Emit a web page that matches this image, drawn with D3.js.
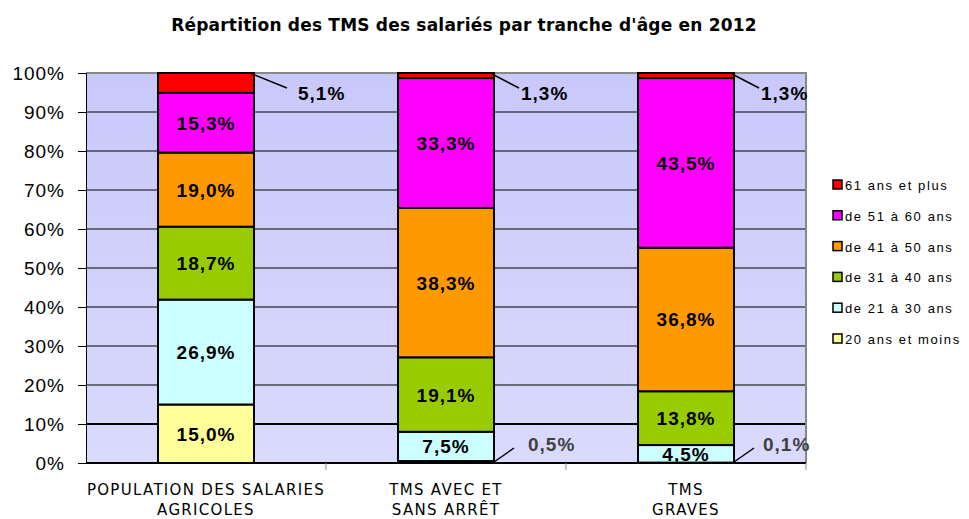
<!DOCTYPE html>
<html>
<head>
<meta charset="utf-8">
<script src="https://cdn.jsdelivr.net/npm/d3@7"></script>
<style>
  body { margin: 0; background: #fff; }
  svg { display: block; }
</style>
</head>
<body>
<div id="chart"></div>
<script>
// data ---------------------------------------------------
var categories = [
  ["POPULATION DES SALARIES", "AGRICOLES"],
  ["TMS AVEC ET", "SANS ARRÊT"],
  ["TMS", "GRAVES"]
];
var ageGroups = ["20 ans et moins", "de 21 à 30 ans", "de 31 à 40 ans", "de 41 à 50 ans", "de 51 à 60 ans", "61 ans et plus"];
var colors = ["#ffff99", "#ccffff", "#99cc00", "#ff9900", "#ff00ff", "#ff0000"];

// one array per age group, values in % for the 3 bars
var age20 = [15.0, 0.5, 0.1];
var age21 = [26.9, 7.5, 4.5];
var age31 = [18.7, 19.1, 13.8];
var age41 = [19.0, 38.3, 36.8];
var age51 = [15.3, 33.3, 43.5];
var age61 = [5.1, 1.3, 1.3];
var yTicks = [0, 10, 20, 30, 40, 50, 60, 70, 80, 90, 100];

var series = [age20, age21, age31, age41, age51, age61];

// 1. svg setup ---------------------------------------------
var svgWidth = 969;
var svgHeight = 519;
var margin = { top: 73, right: 163, bottom: 56, left: 86 };
var width = svgWidth - margin.left - margin.right;
var height = svgHeight - margin.top - margin.bottom;

var svg = d3.select("#chart").append("svg")
  .attr("width", svgWidth)
  .attr("height", svgHeight);

// title
svg.append("text")
  .attr("x", 464)
  .attr("y", 31)
  .attr("text-anchor", "middle")
  .style("font-family", "'Century Gothic', 'DejaVu Sans', sans-serif")
  .style("font-weight", "bold")
  .style("font-size", "17px")
  .style("letter-spacing", "0.2px")
  .text("Répartition des TMS des salariés par tranche d'âge en 2012");

var defs = svg.append("defs");
var grad = defs.append("linearGradient").attr("id", "bg").attr("x1", 0).attr("y1", 0).attr("x2", 0).attr("y2", 1);
grad.append("stop").attr("offset", "0%").attr("stop-color", "#c8c8fa");
grad.append("stop").attr("offset", "100%").attr("stop-color", "#dadafd");

var chartGroup = svg.append("g")
  .attr("transform", `translate(${margin.left}, ${margin.top})`);

// 2. scales -------------------------------------------------
var xScale = d3.scaleBand()
  .domain(d3.range(categories.length))
  .range([0, width])
  .paddingInner(0.6)
  .paddingOuter(0.3);

var yScale = d3.scaleLinear()
  .domain([0, 100])
  .range([height, 0]);

// plot background
chartGroup.append("rect")
  .attr("width", width)
  .attr("height", height)
  .attr("fill", "url(#bg)");

// gridlines
chartGroup.append("g").selectAll("line").data(yTicks.slice(1, -1)).enter().append("line")
  .attr("x1", 0).attr("x2", width)
  .attr("y1", d => yScale(d)).attr("y2", d => yScale(d))
  .attr("stroke", "#000")
  .attr("stroke-width", d => d == 10 ? 2 : 1);

// top and right border (gray)
chartGroup.append("path")
  .attr("d", `M0,${yScale(100)}H${width}V${height}`)
  .attr("fill", "none")
  .attr("stroke", "#888")
  .attr("stroke-width", 2);

// y axis
var yAxis = d3.axisLeft(yScale)
  .tickValues(yTicks)
  .tickSize(8)
  .tickPadding(13)
  .tickFormat(d => d + "%");

var yG = chartGroup.append("g").call(yAxis);
yG.select(".domain").attr("stroke", "#000");
yG.selectAll("text")
  .style("font-family", "'Liberation Sans', Arial, sans-serif")
  .style("font-size", "19px")
  .style("letter-spacing", "1px")
  .attr("dy", "0.36em")
  .attr("fill", "#000");

// x axis: baseline + ticks between categories
chartGroup.append("line")
  .attr("x1", 0).attr("x2", width)
  .attr("y1", height).attr("y2", height)
  .attr("stroke", "#000").attr("stroke-width", 2);

chartGroup.append("g").selectAll("line").data(d3.range(1, categories.length + 1)).enter().append("line")
  .attr("x1", d => xScale.step() * d).attr("x2", d => xScale.step() * d)
  .attr("y1", height).attr("y2", height + 7)
  .attr("stroke", "#888");

// category labels
var catX = (d, i) => xScale(i) + xScale.bandwidth() / 2;
var catG = chartGroup.append("g").selectAll("text").data(categories).enter().append("text")
  .attr("x", catX)
  .attr("y", height + 32)
  .attr("text-anchor", "middle")
  .style("font-family", "'Century Gothic', 'DejaVu Sans', sans-serif")
  .style("font-size", "15px")
  .style("letter-spacing", "1.3px");
catG.append("tspan").attr("x", catX).text(d => d[0]);
catG.append("tspan").attr("x", catX).attr("dy", 20).text(d => d[1]);

// 3. stacked bars -------------------------------------------
var rows = categories.map((c, i) => {
  var r = { idx: i };
  ageGroups.forEach((g, k) => { r[g] = series[k][i]; });
  return r;
});

var stack = d3.stack().keys(ageGroups);
var stacked = stack(rows);

var layers = chartGroup.append("g").selectAll("g").data(stacked).enter().append("g")
  .attr("fill", (d, k) => colors[k]);

layers.selectAll("rect").data(d => d).enter().append("rect")
  .attr("x", d => xScale(d.data.idx))
  .attr("y", d => yScale(d[1]))
  .attr("width", xScale.bandwidth())
  .attr("height", d => yScale(d[0]) - yScale(d[1]))
  .attr("stroke", "#000")
  .attr("stroke-width", 2);

// labels --------------------------------------------------
var fmt = v => v.toFixed(1).replace(".", ",") + "%";
var labelFont = "'Liberation Sans', Arial, sans-serif";

var labels = [];
stacked.forEach((layer, k) => {
  layer.forEach(d => {
    labels.push({ k: k, idx: d.data.idx, v: d[1] - d[0], y0: d[0], y1: d[1] });
  });
});

// top group (61+) and tiny segments get their label outside
var isOutside = d => d.k == ageGroups.length - 1 || d.v < 1;
var inside = labels.filter(d => !isOutside(d));
var outside = labels.filter(isOutside);

chartGroup.append("g").selectAll("text").data(inside).enter().append("text")
  .attr("x", d => xScale(d.idx) + xScale.bandwidth() / 2)
  .attr("y", d => yScale((d.y0 + d.y1) / 2))
  .attr("dy", 7)
  .attr("text-anchor", "middle")
  .style("font-family", labelFont)
  .style("font-weight", "bold")
  .style("font-size", "19px")
  .style("letter-spacing", "1px")
  .text(d => fmt(d.v));

// small segments: leader line + label to the right
var outG = chartGroup.append("g").selectAll("g").data(outside).enter().append("g");
var atTop = d => d.y1 > 50;
var barRight = d => xScale(d.idx) + xScale.bandwidth();
outG.append("line")
  .attr("x1", d => barRight(d) - (atTop(d) ? 2 : 0))
  .attr("y1", d => atTop(d) ? yScale(d.y1) + 1 : yScale(d.y0) - 1)
  .attr("x2", d => barRight(d) + (atTop(d) ? (d.idx == 0 ? 33 : 25) : 20))
  .attr("y2", d => atTop(d) ? yScale(d.y1) + 15 : yScale(d.y0) - 15)
  .attr("stroke", "#000")
  .attr("stroke-width", 1.5);

outG.append("text")
  .attr("x", d => barRight(d) + (atTop(d) ? (d.idx == 0 ? 44 : 27) : (d.idx == 1 ? 34 : 29)))
  .attr("y", d => atTop(d) ? yScale(d.y1) + 27 : yScale(d.y0) - 12)
  .style("font-family", labelFont)
  .style("font-weight", "bold")
  .style("font-size", "19px")
  .style("letter-spacing", "1px")
  .attr("fill", d => atTop(d) ? "#000" : "#404040")
  .text(d => fmt(d.v));

// 4. legend -------------------------------------------------
var legend = svg.append("g").attr("transform", "translate(833, 180)");
var legendItems = legend.selectAll("g").data(ageGroups.slice().reverse()).enter().append("g")
  .attr("transform", (d, i) => `translate(0, ${i * 30.8})`);

legendItems.append("rect")
  .attr("width", 9).attr("height", 9)
  .attr("fill", d => colors[ageGroups.indexOf(d)])
  .attr("stroke", "#000")
  .attr("stroke-width", 1.5);

legendItems.append("text")
  .attr("x", 12)
  .attr("y", 10)
  .style("font-family", "'Liberation Sans', Arial, sans-serif")
  .style("font-size", "13px")
  .style("letter-spacing", "1.6px")
  .text(d => d);
</script>
</body>
</html>
